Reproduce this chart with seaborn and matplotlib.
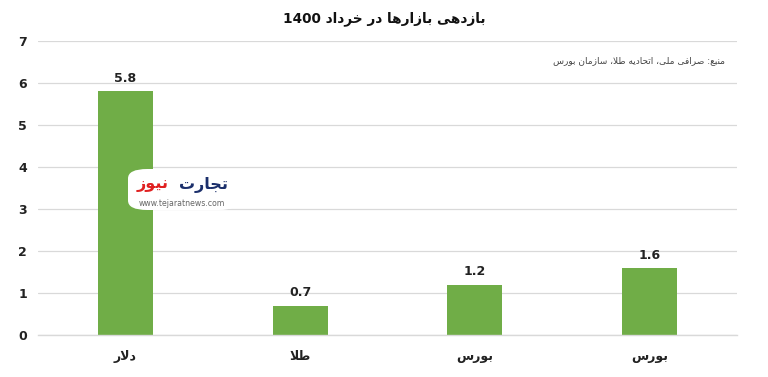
import matplotlib
matplotlib.use("Agg")
import matplotlib.pyplot as plt
import seaborn as sns
import pandas as pd
from matplotlib.patches import FancyBboxPatch

# ---- data ----
categories = ["دلار", "طلا", "بورس", "بورس"]
values = [5.8, 0.7, 1.2, 1.6]
title_text = "بازدهی بازارها در خرداد 1400"
source_text = "منبع: صرافی ملی، اتحادیه طلا، سازمان بورس"
y_ticks = [0, 1, 2, 3, 4, 5, 6, 7]

# ---- minimal Arabic/Persian shaping (presentation forms + RTL order) ----
FORMS = {
    'ا': ('\uFE8D', '\uFE8E', None, None),
    'ب': ('\uFE8F', '\uFE90', '\uFE91', '\uFE92'),
    'ت': ('\uFE95', '\uFE96', '\uFE97', '\uFE98'),
    'ج': ('\uFE9D', '\uFE9E', '\uFE9F', '\uFEA0'),
    'ح': ('\uFEA1', '\uFEA2', '\uFEA3', '\uFEA4'),
    'خ': ('\uFEA5', '\uFEA6', '\uFEA7', '\uFEA8'),
    'د': ('\uFEA9', '\uFEAA', None, None),
    'ر': ('\uFEAD', '\uFEAE', None, None),
    'ز': ('\uFEAF', '\uFEB0', None, None),
    'س': ('\uFEB1', '\uFEB2', '\uFEB3', '\uFEB4'),
    'ص': ('\uFEB9', '\uFEBA', '\uFEBB', '\uFEBC'),
    'ط': ('\uFEC1', '\uFEC2', '\uFEC3', '\uFEC4'),
    'ع': ('\uFEC9', '\uFECA', '\uFECB', '\uFECC'),
    'ف': ('\uFED1', '\uFED2', '\uFED3', '\uFED4'),
    'ق': ('\uFED5', '\uFED6', '\uFED7', '\uFED8'),
    'ل': ('\uFEDD', '\uFEDE', '\uFEDF', '\uFEE0'),
    'م': ('\uFEE1', '\uFEE2', '\uFEE3', '\uFEE4'),
    'ن': ('\uFEE5', '\uFEE6', '\uFEE7', '\uFEE8'),
    'ه': ('\uFEE9', '\uFEEA', '\uFEEB', '\uFEEC'),
    'و': ('\uFEED', '\uFEEE', None, None),
    'ی': ('\uFBFC', '\uFBFD', '\uFBFE', '\uFBFF'),
}


def dual(c):
    return c in FORMS and FORMS[c][2] is not None


def shape(text):
    out = []
    chars = list(text)
    i = 0
    n = len(chars)
    while i < n:
        c = chars[i]
        prev = chars[i - 1] if i > 0 else ''
        if c == 'ل' and i + 1 < n and chars[i + 1] == 'ا':
            out.append('\uFEFC' if dual(prev) else '\uFEFB')
            i += 2
            continue
        if c in FORMS:
            nxt = chars[i + 1] if i + 1 < n else ''
            cp = dual(prev)
            cn = dual(c) and nxt in FORMS
            iso, fin, ini, med = FORMS[c]
            if cp and cn:
                out.append(med)
            elif cp:
                out.append(fin)
            elif cn:
                out.append(ini)
            else:
                out.append(iso)
        else:
            out.append(c)
        i += 1
    s = ''.join(out)
    rev = s[::-1]
    res = []
    run = ''
    for ch in rev:
        if ch.isascii() and (ch.isalnum() or ch in '.'):
            run += ch
        else:
            if run:
                res.append(run[::-1])
                run = ''
            res.append(ch)
    if run:
        res.append(run[::-1])
    return ''.join(res)


sns.set_theme(style="whitegrid")
plt.rcParams['font.family'] = ['DejaVu Sans']

df = pd.DataFrame({"pos": [str(i) for i in range(len(categories))], "value": values})

fig = plt.figure(figsize=(7.68, 3.77), dpi=100)
ax = fig.add_axes([38 / 768, 1 - 335 / 377, 699 / 768, 294 / 377])

sns.barplot(data=df, x="pos", y="value", color="#70AD47", saturation=1,
            width=0.315, ax=ax, edgecolor="none")

ax.set_xlim(-0.5, 3.5)
ax.set_ylim(0, 7)
ax.set_yticks(y_ticks)
ax.set_yticklabels([str(t) for t in y_ticks], fontsize=9, fontweight="bold", color="#222222")
ax.set_xticks(range(len(categories)))
ax.set_xticklabels([shape(c) for c in categories], fontsize=9, fontweight="bold", color="#222222")
ax.set_xlabel("")
ax.set_ylabel("")
ax.tick_params(axis='y', pad=8, length=0)
ax.tick_params(axis='x', pad=11, length=0)
ax.grid(axis='y', color="#D9D9D9", linewidth=0.9)
ax.grid(axis='x', visible=False)
for side in ["left", "right", "top"]:
    ax.spines[side].set_visible(False)
ax.spines["bottom"].set_color("#D9D9D9")
ax.spines["bottom"].set_linewidth(1.0)

for p, v in zip(ax.patches, values):
    ax.annotate(f"{v}", (p.get_x() + p.get_width() / 2, v),
                xytext=(0, 4.5), textcoords="offset points",
                ha="center", va="bottom", fontsize=9, fontweight="bold", color="#222222")

fig.text(0.5, 0.95, shape(title_text), ha="center", va="center",
         fontsize=9.8, fontweight="bold", color="#111111")
fig.text(0.944, 0.84, shape(source_text), ha="right", va="center",
         fontsize=6.5, color="#444444")

# watermark logo
box = FancyBboxPatch((128 / 768, 1 - 210 / 377), 110 / 768, 41 / 377,
                     boxstyle="round,pad=0.0,rounding_size=0.025",
                     transform=fig.transFigure, facecolor="white", edgecolor="none", zorder=5)
fig.patches.append(box)
fig.text(228 / 768, 1 - 185 / 377, shape("تجارت"), ha="right", va="center", fontsize=11.5,
         fontweight="bold", color="#1B2F6B", zorder=6)
fig.text(137 / 768, 1 - 185 / 377, shape("نیوز"), ha="left", va="center", fontsize=11.5,
         fontweight="bold", color="#E02020", zorder=6)
fig.text(182 / 768, 1 - 203 / 377, "www.tejaratnews.com", ha="center", va="center", fontsize=5.6,
         color="#666666", zorder=6)

fig.savefig("out.png", dpi=100)
